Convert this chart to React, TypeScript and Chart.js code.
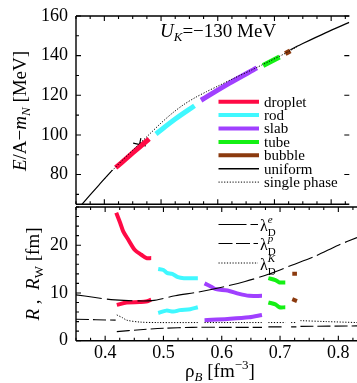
import React, { useEffect, useRef } from "react";
import { Chart, registerables } from "chart.js";
Chart.register(...registerables);

const FONT = '"Liberation Serif", "DejaVu Serif", serif';

// ---- axes ----
const X_MIN = 0.35;
const X_MAX = 0.832;
const X_TICKS = [0.4, 0.5, 0.6, 0.7, 0.8];
const TOP_Y_MIN = 65;
const TOP_Y_MAX = 160;
const TOP_Y_TICKS = [80, 100, 120, 140, 160];
const BOT_Y_MIN = 0;
const BOT_Y_MAX = 28;
const BOT_Y_TICKS = [0, 10, 20];

// ---- legend / structures ----
const STRUCTURES = ["droplet", "rod", "slab", "tube", "bubble"];
const STRUCT_COLORS = ["#ff0a45", "#40f8ff", "#a040ff", "#14f014", "#8b3a0e"];
const LEGEND_TOP = ["droplet", "rod", "slab", "tube", "bubble", "uniform", "single phase"];
const LEGEND_BOT = ["e", "p", "K"];

// ---- top panel: E/A - m_N [MeV] ----
const RHO_DROPLET = [0.42, 0.44, 0.46, 0.479];
const E_DROPLET = [83.5, 88.4, 93.4, 98];
const RHO_ROD = [0.491, 0.525, 0.559];
const E_ROD = [100.5, 108, 114.7];
const RHO_SLAB = [0.5705, 0.62, 0.669];
const E_SLAB = [117.5, 126, 133.8];
const RHO_TUBE = [0.68, 0.709];
const E_TUBE = [135, 139.3];
const RHO_BUBBLE = [0.719, 0.728];
const E_BUBBLE = [141, 142.4];
const RHO_UNIF_LOW = [0.36, 0.39, 0.414];
const E_UNIF_LOW = [64.8, 74.6, 82.2];
const RHO_UNIF_HIGH = [0.728, 0.75, 0.79, 0.832];
const E_UNIF_HIGH = [143, 146.1, 151.5, 156.8];
const RHO_SINGLE = [0.4, 0.42, 0.45, 0.48, 0.5, 0.52, 0.54, 0.56, 0.58, 0.6, 0.63, 0.66, 0.69, 0.72, 0.74];
const E_SINGLE = [77.8, 83.8, 92.3, 100.5, 106, 111, 115.3, 118.8, 121.8, 124.6, 128.8, 132.8, 137, 141.3, 144.5];
const CROSS_RHO = [0.462];
const CROSS_E = [95.2];

// ---- bottom panel: R, R_W [fm] ----
const RHO_DROPLET_R = [0.419, 0.426, 0.431, 0.44, 0.451, 0.462, 0.471, 0.479];
const R_DROPLET = [26.8, 24.6, 22.9, 21.1, 19.0, 18.0, 17.3, 17.3];
const RHO_DROPLET_W = [0.42, 0.437, 0.459, 0.47, 0.479];
const RW_DROPLET = [7.5, 8.0, 8.1, 8.2, 8.6];
const RHO_ROD_R = [0.491, 0.5, 0.506, 0.515, 0.525, 0.535, 0.559];
const R_ROD = [15.0, 14.8, 14.2, 14.0, 13.3, 13.1, 13.1];
const RHO_ROD_W = [0.491, 0.505, 0.517, 0.528, 0.546, 0.559];
const RW_ROD = [5.8, 6.3, 6.1, 6.4, 6.6, 7.0];
const RHO_SLAB_R = [0.5705, 0.582, 0.59, 0.61, 0.63, 0.647, 0.669];
const R_SLAB = [12.0, 11.3, 10.8, 10.5, 9.8, 9.4, 9.4];
const RHO_SLAB_W = [0.5705, 0.61, 0.647, 0.669];
const RW_SLAB = [4.3, 4.55, 4.9, 5.4];
const RHO_TUBE_R = [0.68, 0.692, 0.699, 0.709];
const R_TUBE = [13.1, 12.7, 12.2, 12.2];
const RHO_TUBE_W = [0.68, 0.692, 0.699, 0.709];
const RW_TUBE = [8.0, 7.6, 7.0, 7.0];
const RHO_BUBBLE_R = [0.721, 0.729];
const R_BUBBLE = [14.0, 14.0];
const RHO_BUBBLE_W = [0.721, 0.729];
const RW_BUBBLE = [8.7, 8.3];

const RHO_LAM_E = [0.35, 0.38, 0.41, 0.44, 0.48, 0.52, 0.56, 0.6, 0.64, 0.68, 0.72, 0.76, 0.8, 0.832];
const LAM_E = [9.6, 9.1, 8.6, 8.4, 8.4, 9.4, 10.2, 11.2, 12.4, 13.9, 15.8, 17.7, 20.0, 21.6];
const RHO_LAM_P = [0.35, 0.418, 0.419, 0.42, 0.46, 0.5, 0.55, 0.6, 0.669, 0.674, 0.68, 0.709, 0.714, 0.719, 0.728, 0.731, 0.735, 0.832];
const LAM_P = [4.5, 4.3, null, 1.9, 2.3, 2.6, 2.8, 2.8, 2.8, null, 2.9, 2.9, null, 2.9, 2.9, null, 3.0, 3.1];
const RHO_LAM_K = [0.42, 0.43, 0.437, 0.46, 0.49, 0.559, 0.565, 0.5705, 0.669, 0.674, 0.68, 0.709, 0.714, 0.719, 0.728, 0.731, 0.735, 0.78, 0.832];
const LAM_K = [5.4, 4.8, 4.3, 3.9, 3.8, 3.8, null, 3.8, 3.8, null, 3.8, 3.8, null, 3.8, 3.8, null, 4.2, 4.0, 3.8];

// ---- helpers ----
const pts = (xs: number[], ys: (number | null)[]) => xs.map((x, i) => ({ x, y: ys[i] }));

function line(xs: number[], ys: (number | null)[], color: string, width: number, dash: number[] = []) {
  return {
    type: "line",
    data: pts(xs, ys),
    borderColor: color,
    backgroundColor: color,
    borderWidth: width,
    borderDash: dash,
    pointRadius: 0,
    fill: false,
    tension: 0.3,
    spanGaps: false,
  };
}

type Part = { t: string; it?: boolean; s?: number; dy?: number; noAdv?: boolean };

function drawRich(ctx: CanvasRenderingContext2D, parts: Part[], x: number, y: number, base: number, center: boolean, rot = 0) {
  ctx.save();
  ctx.translate(x, y);
  if (rot) ctx.rotate(rot);
  ctx.fillStyle = "#000";
  ctx.textBaseline = "alphabetic";
  ctx.textAlign = "left";
  const font = (p: Part) => `${p.it ? "italic " : ""}${p.s ?? base}px ${FONT}`;
  let total = 0;
  const ws = parts.map((p) => {
    ctx.font = font(p);
    const w = ctx.measureText(p.t).width;
    if (!p.noAdv) total += w;
    return w;
  });
  let cx = center ? -total / 2 : 0;
  parts.forEach((p, i) => {
    ctx.font = font(p);
    ctx.fillText(p.t, cx, p.dy ?? 0);
    if (!p.noAdv) cx += ws[i];
  });
  ctx.restore();
}

function drawFrame(chart: any, yMajor: number[], yMinorStep: number, yMin: number, yMax: number, rightTicks: boolean) {
  const { ctx, chartArea: a, scales } = chart;
  const xs = scales.x;
  const ys = scales.y;
  ctx.save();
  ctx.strokeStyle = "#000";
  ctx.lineWidth = 1.4;
  ctx.beginPath();
  ctx.moveTo(a.left, a.top);
  ctx.lineTo(a.right, a.top);
  ctx.moveTo(a.left, a.top);
  ctx.lineTo(a.left, a.bottom);
  ctx.moveTo(a.left, a.bottom);
  ctx.lineTo(a.right, a.bottom);
  ctx.stroke();
  ctx.lineWidth = 1.1;
  ctx.beginPath();
  for (let i = 0; i < 40; i++) {
    const v = X_MIN + i * 0.025;
    if (v > X_MAX + 1e-9) break;
    const px = xs.getPixelForValue(v);
    const major = Math.abs(v * 10 - Math.round(v * 10)) < 1e-6;
    const L = major ? 5 : 3;
    ctx.moveTo(px, a.top);
    ctx.lineTo(px, a.top + L);
    ctx.moveTo(px, a.bottom);
    ctx.lineTo(px, a.bottom - L);
  }
  for (let v = yMin; v <= yMax + 1e-9; v += yMinorStep) {
    if (v < ys.min - 1e-9 || v > ys.max + 1e-9) continue;
    const py = ys.getPixelForValue(v);
    const major = yMajor.includes(Math.round(v));
    const L = major ? 5 : 3;
    ctx.moveTo(a.left, py);
    ctx.lineTo(a.left + L, py);
    if (rightTicks && major) {
      ctx.moveTo(a.right, py);
      ctx.lineTo(a.right - L, py);
    }
  }
  ctx.stroke();
  ctx.restore();
}

function xScale(display: boolean, height: number) {
  return {
    type: "linear",
    min: X_MIN,
    max: X_MAX,
    display,
    grid: { display: false, drawTicks: false },
    border: { display: false },
    ticks: {
      font: { family: FONT, size: 18 },
      color: "#000",
      padding: 2,
      maxRotation: 0,
      autoSkip: false,
      callback: (v: any) => Number(v).toFixed(1),
    },
    afterBuildTicks: (s: any) => {
      s.ticks = X_TICKS.map((v) => ({ value: v }));
    },
    afterFit: (s: any) => {
      s.height = height;
      s.paddingLeft = 0;
      s.paddingRight = 0;
    },
  };
}

function yScale(min: number, max: number, ticks: number[]) {
  return {
    type: "linear",
    min,
    max,
    grid: { display: false, drawTicks: false },
    border: { display: false },
    ticks: {
      font: { family: FONT, size: 18 },
      color: "#000",
      padding: 8,
      autoSkip: false,
      callback: (v: any) => String(v),
    },
    afterBuildTicks: (s: any) => {
      s.ticks = ticks.map((v) => ({ value: v }));
    },
    afterFit: (s: any) => {
      s.width = 76;
      s.paddingTop = 0;
      s.paddingBottom = 0;
    },
  };
}

function topConfig(): any {
  const datasets: any[] = [
    line(RHO_UNIF_LOW, E_UNIF_LOW, "#000", 1.2),
    line(RHO_UNIF_HIGH, E_UNIF_HIGH, "#000", 1.2),
    line(RHO_SINGLE, E_SINGLE, "#000", 1, [1.2, 1.6]),
    line(RHO_DROPLET, E_DROPLET, STRUCT_COLORS[0], 5),
    line(RHO_ROD, E_ROD, STRUCT_COLORS[1], 5),
    line(RHO_SLAB, E_SLAB, STRUCT_COLORS[2], 5),
    line(RHO_TUBE, E_TUBE, STRUCT_COLORS[3], 5),
    line(RHO_BUBBLE, E_BUBBLE, STRUCT_COLORS[4], 5),
    {
      type: "line",
      data: pts(CROSS_RHO, CROSS_E),
      showLine: false,
      pointStyle: "cross",
      pointRadius: 6.5,
      pointRotation: 12,
      pointBorderColor: "#000",
      pointBorderWidth: 1.2,
      borderColor: "#000",
    },
  ];
  return {
    type: "line",
    data: { datasets },
    options: {
      animation: false,
      responsive: false,
      events: [],
      layout: { padding: { left: 0, top: 16, right: 0, bottom: 5 } },
      plugins: { legend: { display: false }, tooltip: { enabled: false } },
      scales: { x: xScale(false, 0), y: yScale(TOP_Y_MIN, TOP_Y_MAX, TOP_Y_TICKS) },
    },
    plugins: [
      {
        id: "topDeco",
        afterDraw(chart: any) {
          const ctx = chart.ctx as CanvasRenderingContext2D;
          drawFrame(chart, TOP_Y_TICKS, 10, 70, 160, true);
          // annotation
          drawRich(ctx, [
            { t: "U", it: true },
            { t: "K", it: true, s: 13, dy: 4 },
            { t: "=−130 MeV" },
          ], 160, 37, 19, false);
          // y title
          drawRich(ctx, [
            { t: "E", it: true },
            { t: "/A−" },
            { t: "m", it: true },
            { t: "N", it: true, s: 13, dy: 4 },
            { t: " [MeV]" },
          ], 26, 111, 19, true, -Math.PI / 2);
          // legend
          ctx.save();
          const x0 = 218.5, x1 = 259, tx = 264, y0 = 101.7, dyRow = 13.4;
          LEGEND_TOP.forEach((lab, i) => {
            const y = y0 + i * dyRow;
            ctx.beginPath();
            if (i < STRUCTURES.length) {
              ctx.strokeStyle = STRUCT_COLORS[i];
              ctx.lineWidth = 4;
              ctx.setLineDash([]);
            } else if (i === 5) {
              ctx.strokeStyle = "#000";
              ctx.lineWidth = 1.5;
              ctx.setLineDash([]);
            } else {
              ctx.strokeStyle = "#000";
              ctx.lineWidth = 1;
              ctx.setLineDash([1.2, 1.6]);
            }
            ctx.moveTo(x0, y);
            ctx.lineTo(x1, y);
            ctx.stroke();
            ctx.setLineDash([]);
            ctx.fillStyle = "#000";
            ctx.font = `15px ${FONT}`;
            ctx.textBaseline = "middle";
            ctx.textAlign = "left";
            ctx.fillText(lab, tx, y + 1);
          });
          ctx.restore();
        },
      },
    ],
  };
}

function botConfig(): any {
  const datasets: any[] = [
    line(RHO_LAM_E, LAM_E, "#000", 1.1, [26, 5]),
    line(RHO_LAM_P, LAM_P, "#000", 1.1, [13, 4]),
    line(RHO_LAM_K, LAM_K, "#000", 1, [1.2, 1.6]),
    line(RHO_DROPLET_R, R_DROPLET, STRUCT_COLORS[0], 4),
    line(RHO_DROPLET_W, RW_DROPLET, STRUCT_COLORS[0], 4),
    line(RHO_ROD_R, R_ROD, STRUCT_COLORS[1], 4),
    line(RHO_ROD_W, RW_ROD, STRUCT_COLORS[1], 4),
    line(RHO_SLAB_R, R_SLAB, STRUCT_COLORS[2], 4),
    line(RHO_SLAB_W, RW_SLAB, STRUCT_COLORS[2], 4),
    line(RHO_TUBE_R, R_TUBE, STRUCT_COLORS[3], 4),
    line(RHO_TUBE_W, RW_TUBE, STRUCT_COLORS[3], 4),
    line(RHO_BUBBLE_R, R_BUBBLE, STRUCT_COLORS[4], 4),
    line(RHO_BUBBLE_W, RW_BUBBLE, STRUCT_COLORS[4], 4),
  ];
  return {
    type: "line",
    data: { datasets },
    options: {
      animation: false,
      responsive: false,
      events: [],
      layout: { padding: { left: 0, top: 7, right: 0, bottom: 0 } },
      plugins: { legend: { display: false }, tooltip: { enabled: false } },
      scales: { x: xScale(true, 42.3), y: yScale(BOT_Y_MIN, BOT_Y_MAX, BOT_Y_TICKS) },
    },
    plugins: [
      {
        id: "botDeco",
        afterDraw(chart: any) {
          const ctx = chart.ctx as CanvasRenderingContext2D;
          drawFrame(chart, BOT_Y_TICKS, 2, 0, 28, false);
          // y title
          drawRich(ctx, [
            { t: "R", it: true },
            { t: " ,  " },
            { t: "R", it: true },
            { t: "W", s: 13, dy: 4 },
            { t: " [fm]" },
          ], 39, 74, 19, true, -Math.PI / 2);
          // x title
          drawRich(ctx, [
            { t: "ρ" },
            { t: "B", it: true, s: 13, dy: 4 },
            { t: " [fm" },
            { t: "−3", s: 13, dy: -8 },
            { t: "]" },
          ], 220, 177, 19, true);
          // legend
          ctx.save();
          const x0 = 218.5, x1 = 258, tx = 260;
          const rows = [24.5, 43.5, 63];
          const dashes = [[28, 4], [14, 3.5], [1.2, 1.6]];
          LEGEND_BOT.forEach((sup, i) => {
            const y = rows[i];
            ctx.beginPath();
            ctx.strokeStyle = "#000";
            ctx.lineWidth = i === 2 ? 1 : 1.1;
            ctx.setLineDash(dashes[i]);
            ctx.moveTo(x0, y);
            ctx.lineTo(x1, y);
            ctx.stroke();
            ctx.setLineDash([]);
            drawRich(ctx, [
              { t: "λ", s: 16 },
              { t: sup, it: true, s: 11, dy: -8, noAdv: true },
              { t: "D", s: 11, dy: 5 },
            ], tx, y + 6.7, 16, false);
          });
          ctx.restore();
        },
      },
    ],
  };
}

export default function App() {
  const topRef = useRef<HTMLCanvasElement>(null);
  const botRef = useRef<HTMLCanvasElement>(null);
  useEffect(() => {
    const c1 = new Chart(topRef.current as HTMLCanvasElement, topConfig());
    const c2 = new Chart(botRef.current as HTMLCanvasElement, botConfig());
    return () => {
      c1.destroy();
      c2.destroy();
    };
  }, []);
  return (
    <div style={{ position: "absolute", left: 0, top: 0, width: 357, height: 383, overflow: "hidden", background: "#fff" }}>
      <canvas ref={topRef} width={357} height={212} style={{ position: "absolute", left: 0, top: 0 }} />
      <canvas ref={botRef} width={357} height={183} style={{ position: "absolute", left: 0, top: 200 }} />
    </div>
  );
}
